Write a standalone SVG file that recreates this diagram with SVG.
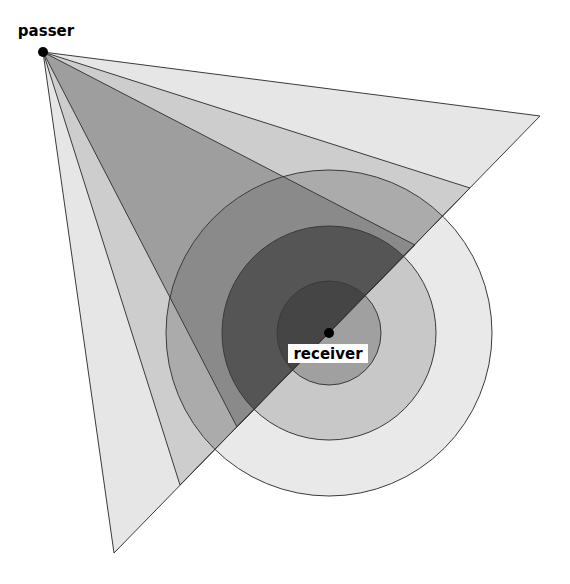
<svg xmlns="http://www.w3.org/2000/svg" width="570" height="584" viewBox="0 0 570 584">
<style>
.edge{fill:none;stroke:#3a3a3a;stroke-width:1}
.lbl{font-family:"DejaVu Sans","Liberation Sans",sans-serif;font-weight:bold;font-size:15px;fill:#000}
</style>
<defs>
<clipPath id="cW2"><polygon points="43,52 470,188 180,485"/></clipPath>
<clipPath id="cW3"><polygon points="43,52 415,245 237,427"/></clipPath>
</defs>
<rect width="570" height="584" fill="#fff"/>
<g id="zones">
<polygon id="wedge1" points="43,52 540,116 114,553" fill="#e6e6e6"/>
<polygon id="wedge2" points="43,52 470,188 180,485" fill="#cdcdcd"/>
<polygon id="wedge3" points="43,52 415,245 237,427" fill="#9e9e9e"/>
<circle id="ring-outer" cx="329" cy="333" r="163" fill="#e9e9e9"/>
<circle id="ring-middle" cx="329" cy="333" r="107" fill="#c8c8c8"/>
<circle id="ring-inner" cx="329" cy="333" r="52" fill="#a0a0a0"/>
<g clip-path="url(#cW2)"><circle cx="329" cy="333" r="163" fill="#ababab"/></g>
<g clip-path="url(#cW3)">
<circle cx="329" cy="333" r="163" fill="#8a8a8a"/>
<circle cx="329" cy="333" r="107" fill="#555555"/>
<circle cx="329" cy="333" r="52" fill="#454545"/>
</g>
</g>
<g id="outlines">
<polygon class="edge" points="43,52 540,116 114,553"/>
<polygon class="edge" points="43,52 470,188 180,485"/>
<polygon class="edge" points="43,52 415,245 237,427"/>
<circle class="edge" cx="329" cy="333" r="163"/>
<circle class="edge" cx="329" cy="333" r="107"/>
<circle class="edge" cx="329" cy="333" r="52"/>
</g>
<g id="passer">
<circle cx="43" cy="52" r="5" fill="#000"/>
<text class="lbl" x="46" y="36" text-anchor="middle">passer</text>
</g>
<g id="receiver">
<circle cx="329" cy="333" r="5" fill="#000"/>
<rect x="288" y="344" width="80" height="19" fill="#fff"/>
<text class="lbl" x="328" y="359" text-anchor="middle">receiver</text>
</g>
</svg>
